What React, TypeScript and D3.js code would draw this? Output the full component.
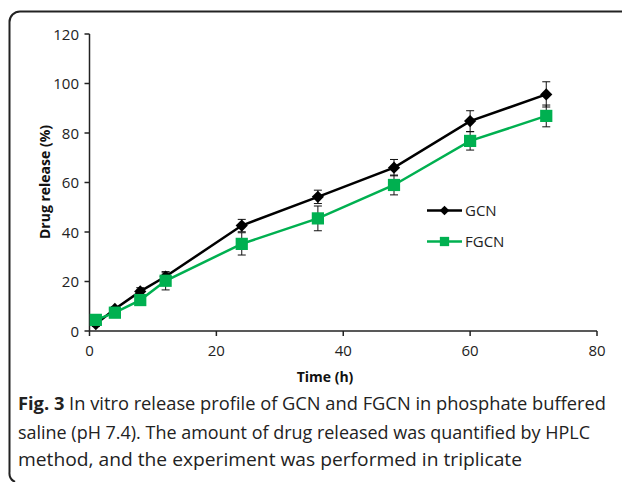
import React from "react";
import * as d3 from "d3";

const times = [1, 4, 8, 12, 24, 36, 48, 60, 72];
const gcnValues = [2.8, 8.9, 16.0, 22.0, 42.6, 54.2, 66.0, 84.8, 95.6];
const gcnErrors = [1.0, 1.0, 1.5, 1.5, 2.5, 2.7, 3.3, 4.2, 5.1];
const fgcnValues = [4.5, 7.4, 12.5, 20.3, 35.2, 45.5, 59.0, 76.8, 86.9];
const fgcnErrors = [1.0, 1.0, 1.5, 3.7, 4.5, 5.0, 4.0, 3.7, 4.4];
const xTicks = [0, 20, 40, 60, 80];
const yTicks = [0, 20, 40, 60, 80, 100, 120];
const seriesNames = ["GCN", "FGCN"];
const captionLines = [
  "In vitro release profile of GCN and FGCN in phosphate buffered",
  "saline (pH 7.4). The amount of drug released was quantified by HPLC",
  "method, and the experiment was performed in triplicate",
];

const GREEN = "#00b050";
const FONT = "'Open Sans', sans-serif";

export default function App() {
  const x = d3.scaleLinear().domain([0, 80]).range([89.5, 597]);
  const y = d3.scaleLinear().domain([0, 120]).range([331, 34]);
  const line = d3
    .line<[number, number]>()
    .x((d) => x(d[0]))
    .y((d) => y(d[1]));
  const gcnPts: [number, number][] = times.map((t, i) => [t, gcnValues[i]]);
  const fgcnPts: [number, number][] = times.map((t, i) => [t, fgcnValues[i]]);
  const diamond = d3.symbol(d3.symbolDiamond2, 95)();
  const square = d3.symbol(d3.symbolSquare2, 190)();
  const diamondSm = d3.symbol(d3.symbolDiamond2, 60)();
  const squareSm = d3.symbol(d3.symbolSquare2, 110)();

  const errBars = (vals: number[], errs: number[]) =>
    times.map((t, i) => {
      const cx = x(t);
      const y1 = y(vals[i] + errs[i]);
      const y2 = y(vals[i] - errs[i]);
      return (
        <g key={i} stroke="#111" strokeWidth={1}>
          <line x1={cx} x2={cx} y1={y1} y2={y2} />
          <line x1={cx - 4} x2={cx + 4} y1={y1} y2={y1} />
          <line x1={cx - 4} x2={cx + 4} y1={y2} y2={y2} />
        </g>
      );
    });

  return (
    <svg
      width={622}
      height={482}
      style={{ position: "absolute", left: 0, top: 0, background: "#fff" }}
    >
      <rect width={622} height={482} fill="#fff" />
      <path
        d="M 622 11.5 H 20 A 10.5 10.5 0 0 0 9.5 22 V 472 A 10 10 0 0 0 15 482"
        fill="none"
        stroke="#222"
        strokeWidth={2}
      />
      {/* axes */}
      <g stroke="#222" strokeWidth={1.5} fill="none">
        <line x1={x(0)} x2={x(80)} y1={y(0)} y2={y(0)} />
        <line x1={x(0)} x2={x(0)} y1={y(0)} y2={y(120)} />
        {xTicks.map((t) => (
          <line key={t} x1={x(t)} x2={x(t)} y1={y(0)} y2={y(0) + 5} />
        ))}
        {yTicks.map((t) => (
          <line key={t} x1={x(0) - 5} x2={x(0)} y1={y(t)} y2={y(t)} />
        ))}
      </g>
      <g fontFamily={FONT} fontSize={15} fill="#222">
        {xTicks.map((t) => (
          <text key={t} x={x(t)} y={356} textAnchor="middle">
            {t}
          </text>
        ))}
        {yTicks.map((t) => (
          <text key={t} x={79} y={y(t) + 5.5} textAnchor="end">
            {t}
          </text>
        ))}
      </g>
      <text
        x={325}
        y={382}
        textAnchor="middle"
        fontFamily={FONT}
        fontWeight="bold"
        fontSize={14}
        fill="#111"
      >
        Time (h)
      </text>
      <text
        transform="translate(50,182) rotate(-90)"
        textAnchor="middle"
        fontFamily={FONT}
        fontWeight="bold"
        fontSize={14}
        fill="#111"
      >
        Drug release (%)
      </text>

      {/* series */}
      <path d={line(gcnPts) || ""} fill="none" stroke="#000" strokeWidth={2.5} />
      <path d={line(fgcnPts) || ""} fill="none" stroke={GREEN} strokeWidth={2.5} />
      {errBars(gcnValues, gcnErrors)}
      {errBars(fgcnValues, fgcnErrors)}
      {gcnPts.map((p, i) => (
        <path key={i} d={diamond || ""} transform={`translate(${x(p[0])},${y(p[1])})`} fill="#000" />
      ))}
      {fgcnPts.map((p, i) => (
        <path key={i} d={square || ""} transform={`translate(${x(p[0])},${y(p[1])})`} fill={GREEN} />
      ))}

      {/* legend */}
      <g>
        <line x1={427} x2={462} y1={210.5} y2={210.5} stroke="#000" strokeWidth={2.5} />
        <path d={diamondSm || ""} transform="translate(444.5,210.5)" fill="#000" />
        <text x={465} y={216} fontFamily={FONT} fontSize={15} fill="#222">
          {seriesNames[0]}
        </text>
        <line x1={427} x2={462} y1={241.5} y2={241.5} stroke={GREEN} strokeWidth={2.5} />
        <path d={squareSm || ""} transform="translate(444.5,241.5)" fill={GREEN} />
        <text x={465} y={247} fontFamily={FONT} fontSize={15} fill="#222">
          {seriesNames[1]}
        </text>
      </g>

      {/* caption */}
      <g fontFamily={FONT} fontSize={18} fill="#222">
        <text x={18} y={410} textLength={588} lengthAdjust="spacingAndGlyphs">
          <tspan fontWeight="bold">Fig. 3</tspan>
          <tspan> {captionLines[0]}</tspan>
        </text>
        <text x={18} y={438.5} textLength={572} lengthAdjust="spacingAndGlyphs">
          {captionLines[1]}
        </text>
        <text x={18} y={466} textLength={504} lengthAdjust="spacingAndGlyphs">
          {captionLines[2]}
        </text>
      </g>
    </svg>
  );
}
